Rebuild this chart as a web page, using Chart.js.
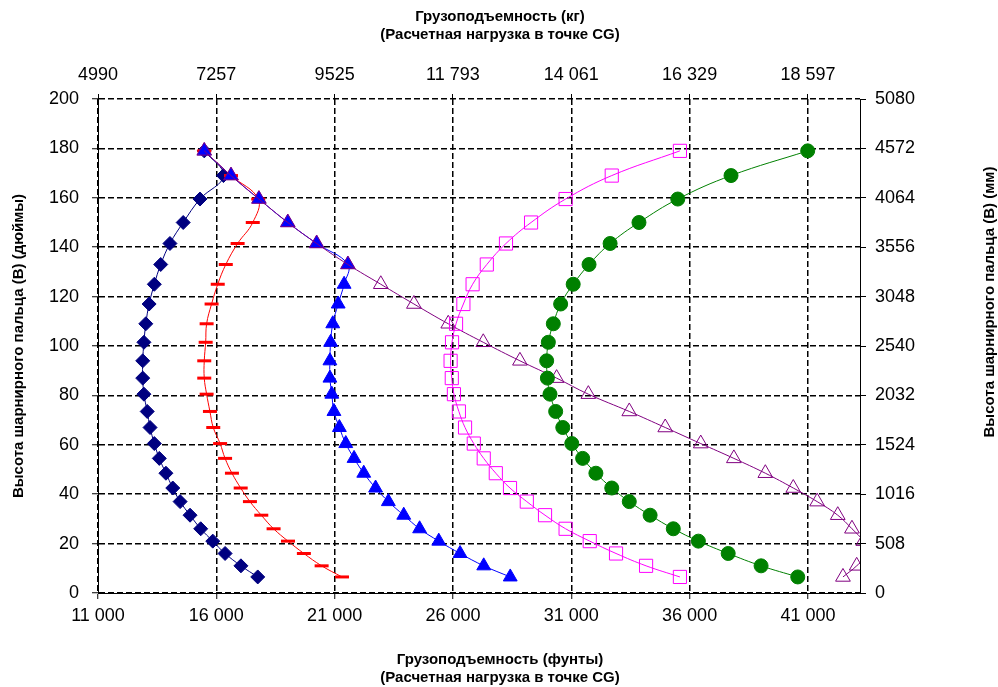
<!DOCTYPE html>
<html>
<head>
<meta charset="utf-8">
<script src="https://cdn.jsdelivr.net/npm/chart.js@4.4.1/dist/chart.umd.min.js"></script>
<style>
  body { margin: 0; background: #fff; }
  #wrap { width: 998px; height: 687px; }
</style>
</head>
<body>
<div id="wrap"><canvas id="grafico"></canvas></div>
<script>
// Высота шарнирного пальца (дюймы) - одинаковая для всех серий
const alturas = [6.5, 11, 16, 21, 26, 31.5, 37, 42.5, 48.5, 54.5, 60.5, 67, 73.5, 80.5, 87, 94, 101.5, 109, 117, 125, 133, 141.5, 150, 159.5, 169, 179]

// Грузоподъемность (фунты) по сериям, снизу вверх
const serieAzulEscuro = [17750, 17040, 16370, 15850, 15340, 14890, 14470, 14160, 13870, 13590, 13380, 13200, 13080, 12940, 12890, 12890, 12940, 13020, 13160, 13380, 13650, 14040, 14600, 15310, 16300, 15490]
const serieVermelha = [21310, 20450, 19700, 19030, 18420, 17900, 17420, 17030, 16660, 16370, 16160, 15870, 15730, 15590, 15490, 15490, 15550, 15590, 15800, 16060, 16400, 16900, 17540, 17770, 16620, 15490]
const serieAzul = [28420, 27300, 26300, 25400, 24590, 23920, 23270, 22730, 22230, 21820, 21470, 21200, 20970, 20880, 20800, 20800, 20830, 20920, 21150, 21400, 21560, 20240, 19020, 17800, 16620, 15490]
const serieRoxa = [42480, 43060, 43540, 43340, 42860, 42260, 41390, 40380, 39200, 37870, 36470, 34970, 33450, 31720, 30380, 28830, 27280, 25800, 24350, 22950, 21560, 20240, 19020, 17800, 16620, 15490]
const serieMagenta = [35590, 34160, 32890, 31780, 30760, 29890, 29120, 28410, 27810, 27300, 26880, 26510, 26250, 26040, 25950, 25900, 25960, 26130, 26440, 26830, 27430, 28240, 29300, 30760, 32710, 35590]
const serieVerde = [40570, 39020, 37630, 36370, 35310, 34330, 33450, 32710, 32040, 31480, 31020, 30640, 30340, 30100, 29990, 29960, 30030, 30240, 30550, 31080, 31750, 32640, 33860, 35500, 37750, 40990]

// Ticks
const ticksLibras = [11000, 16000, 21000, 26000, 31000, 36000, 41000]
const ticksKg = [4990, 7257, 9525, 11793, 14061, 16329, 18597]
const ticksPolegadas = [0, 20, 40, 60, 80, 100, 120, 140, 160, 180, 200]
const ticksMm = [0, 508, 1016, 1524, 2032, 2540, 3048, 3556, 4064, 4572, 5080]

const tituloTopo = ['Грузоподъемность (кг)', '(Расчетная нагрузка в точке CG)']
const tituloBaixo = ['Грузоподъемность (фунты)', '(Расчетная нагрузка в точке CG)']
const tituloEsq = 'Высота шарнирного пальца (B) (дюймы)'
const tituloDir = 'Высота шарнирного пальца (B) (мм)'

Chart.defaults.font.family = '"Liberation Sans", Arial, sans-serif'
Chart.defaults.color = '#000'

function fmt(v) {
  // 5+ digitos com espaco: 11 000, 14 061
  return v >= 10000 ? String(v).replace(/\B(?=(\d{3})+(?!\d))/g, ' ') : String(v)
}

function pontos(xs) {
  return xs.map((x, i) => ({ x: x, y: alturas[i] }))
}

function serie(xs, cor, estilo, raio, cheio, extra) {
  return Object.assign({
    data: pontos(xs),
    showLine: true,
    borderColor: cor,
    borderWidth: 1,
    tension: 0.4,
    pointStyle: estilo,
    pointRadius: raio,
    pointHoverRadius: raio,
    pointBackgroundColor: cheio ? cor : 'rgba(0,0,0,0)',
    pointBorderColor: cor,
    pointBorderWidth: 1
  }, extra || {})
}

const fonteTick = { size: 18 }
const fonteTitulo = 'bold 15px "Liberation Sans", Arial, sans-serif'

const titulos = {
  id: 'titulos',
  afterDraw(chart) {
    const ctx = chart.ctx
    ctx.save()
    ctx.fillStyle = '#000'
    ctx.font = fonteTitulo
    ctx.textAlign = 'center'
    ctx.textBaseline = 'middle'
    ctx.fillText(tituloTopo[0], 500, 17)
    ctx.fillText(tituloTopo[1], 500, 35)
    ctx.fillText(tituloBaixo[0], 500, 660)
    ctx.fillText(tituloBaixo[1], 500, 678)
    ctx.translate(19, 346)
    ctx.rotate(-Math.PI / 2)
    ctx.fillText(tituloEsq, 0, 0)
    ctx.restore()
    ctx.save()
    ctx.fillStyle = '#000'
    ctx.font = fonteTitulo
    ctx.textAlign = 'center'
    ctx.textBaseline = 'middle'
    ctx.translate(990, 302)
    ctx.rotate(-Math.PI / 2)
    ctx.fillText(tituloDir, 0, 0)
    ctx.restore()
  }
}

const gradeTracejada = { color: '#000', lineWidth: 1.5, tickLength: 6, tickColor: '#000', tickWidth: 1 }

new Chart(document.getElementById('grafico'), {
  type: 'scatter',
  data: {
    datasets: [
      serie(serieAzulEscuro, '#000080', 'rectRot', 7, true, { order: 6 }),
      serie(serieVermelha, '#FF0000', 'line', 7, true, { order: 5, pointBorderWidth: 3 }),
      serie(serieAzul, '#0000FF', 'triangle', 8, true, { order: 4 }),
      serie(serieRoxa, '#800080', 'triangle', 8.5, false, { order: 3 }),
      serie(serieMagenta, '#FF00FF', 'rect', 9.3, false, { order: 2 }),
      serie(serieVerde, '#008000', 'circle', 7, true, { order: 1 })
    ]
  },
  options: {
    responsive: true,
    maintainAspectRatio: false,
    animation: false,
    layout: { padding: 0 },
    plugins: {
      legend: { display: false },
      tooltip: { enabled: false }
    },
    scales: {
      x: {
        type: 'linear',
        position: 'bottom',
        min: 11000,
        max: 43200,
        afterBuildTicks: s => { s.ticks = ticksLibras.map(v => ({ value: v })) },
        afterFit: s => { s.height = 94 },
        ticks: { font: fonteTick, padding: 6, maxRotation: 0, callback: v => fmt(v) },
        grid: gradeTracejada,
        border: { display: true, color: '#000', width: 1, dash: [6, 3] }
      },
      x2: {
        type: 'linear',
        position: 'top',
        min: 11000,
        max: 43200,
        afterBuildTicks: s => { s.ticks = ticksLibras.map(v => ({ value: v })) },
        afterFit: s => { s.height = 99 },
        ticks: { font: fonteTick, padding: 8, maxRotation: 0, callback: (v, i) => fmt(ticksKg[i]) },
        grid: { drawOnChartArea: false, tickLength: 5, tickColor: '#000', tickWidth: 1 },
        border: { display: false }
      },
      y: {
        type: 'linear',
        position: 'left',
        min: 0,
        max: 200,
        afterBuildTicks: s => { s.ticks = ticksPolegadas.map(v => ({ value: v })) },
        afterFit: s => { s.width = 98 },
        ticks: { font: fonteTick, padding: 13 },
        grid: gradeTracejada,
        border: { display: true, color: '#000', width: 1, dash: [6, 3] }
      },
      y2: {
        type: 'linear',
        position: 'right',
        min: 0,
        max: 5080,
        afterBuildTicks: s => { s.ticks = ticksMm.map(v => ({ value: v })) },
        afterFit: s => { s.width = 138 },
        ticks: { font: fonteTick, padding: 9, callback: v => fmt(v) },
        grid: { drawOnChartArea: false, tickLength: 6, tickColor: '#000', tickWidth: 1 },
        border: { display: true, color: '#000', width: 1 }
      }
    }
  },
  plugins: [titulos]
})
</script>
</body>
</html>
